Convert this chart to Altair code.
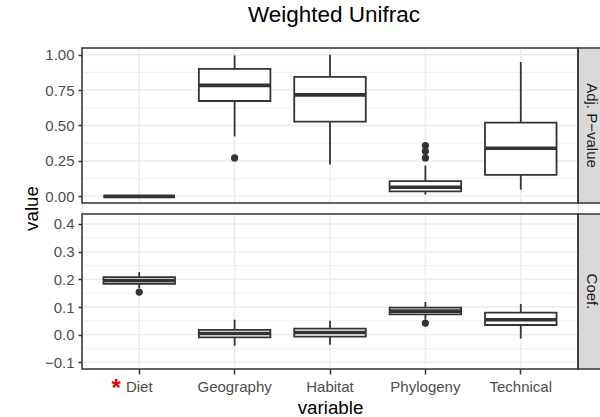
import altair as alt
import pandas as pd

# ---- data -------------------------------------------------------------
variables = ["Diet", "Geography", "Habitat", "Phylogeny", "Technical"]

# Adjusted p-value: box-and-whisker statistics per variable
p_low = [0.0, 0.423, 0.224, 0.012, 0.047]
p_q1 = [0.0, 0.673, 0.527, 0.035, 0.151]
p_median = [0.0, 0.783, 0.716, 0.064, 0.339]
p_q3 = [0.0, 0.899, 0.843, 0.108, 0.520]
p_high = [0.0, 0.995, 1.0, 0.217, 0.948]
p_outlier_var = ["Geography", "Phylogeny", "Phylogeny", "Phylogeny"]
p_outlier_val = [0.271, 0.358, 0.318, 0.271]

# Coefficient: box-and-whisker statistics per variable
c_low = [0.168, -0.040, -0.036, 0.055, -0.014]
c_q1 = [0.184, -0.010, -0.007, 0.073, 0.035]
c_median = [0.196, 0.004, 0.008, 0.085, 0.054]
c_q3 = [0.208, 0.017, 0.022, 0.098, 0.080]
c_high = [0.226, 0.054, 0.050, 0.118, 0.111]
c_outlier_var = ["Diet", "Phylogeny"]
c_outlier_val = [0.154, 0.042]

# axis ticks / grid positions and panel ranges
p_ticks = [0.0, 0.25, 0.5, 0.75, 1.0]
p_minor = [0.125, 0.375, 0.625, 0.875]
p_domain = [-0.047, 1.047]
c_ticks = [-0.1, 0.0, 0.1, 0.2, 0.3, 0.4]
c_minor = [-0.05, 0.05, 0.15, 0.25, 0.35]
c_domain = [-0.124, 0.436]

significant = ["Diet"]

# ---- styling ----------------------------------------------------------
FONT = "Liberation Sans"
INK = "#333333"
GRID = "#ebebeb"
W = 496          # panel width
PANEL_H = 155    # panel height
GAP = 11         # space between the two panels
H = 2 * PANEL_H + GAP
STRIP_W = 26

x_axis = alt.Axis(
    title="variable", orient="bottom", labelAngle=0, labelFont=FONT,
    labelFontSize=15, labelColor="#4d4d4d", labelPadding=5,
    tickColor=INK, tickSize=5, tickWidth=1.5, domain=False, grid=False,
    bandPosition=0.5, titleFont=FONT, titleFontSize=18.75,
    titleColor="black", titleFontWeight="normal", titleY=44,
    titleBaseline="alphabetic",
)
x_enc = alt.X(
    "variable:N",
    scale=alt.Scale(type="band", domain=variables, paddingInner=0.25,
                    paddingOuter=0.225),
    axis=x_axis,
)


def panel(label, low, q1, med, q3, high, out_var, out_val,
          domain, rng, ticks, minor, fmt, title_kw):
    yscale = alt.Scale(domain=domain, range=rng, nice=False, zero=False)
    yaxis = alt.Axis(
        orient="left", values=ticks, format=fmt, grid=False, domain=False,
        tickColor=INK, tickSize=4, tickWidth=1.5, labelFont=FONT,
        labelFontSize=15, labelColor="#4d4d4d", labelPadding=4, **title_kw,
    )

    def Y(field):
        return alt.Y(f"{field}:Q", scale=yscale, axis=yaxis)

    boxes = pd.DataFrame({"variable": variables, "low": low, "q1": q1,
                          "median": med, "q3": q3, "high": high})
    outliers = pd.DataFrame({"variable": out_var, "value": out_val})
    major = pd.DataFrame({"g": ticks})
    minor_df = pd.DataFrame({"g": minor})
    frame = pd.DataFrame({"bottom": [domain[0]], "top": [domain[1]],
                          "mid": [(domain[0] + domain[1]) / 2],
                          "label": [label]})
    vgrid = pd.DataFrame({"variable": variables,
                          "bottom": [domain[0]] * len(variables),
                          "top": [domain[1]] * len(variables)})

    minor_lines = alt.Chart(minor_df).mark_rule(
        color=GRID, strokeWidth=0.8).encode(
        y=Y("g"), x=alt.value(0), x2=alt.value(W))
    major_lines = alt.Chart(major).mark_rule(
        color=GRID, strokeWidth=1.5).encode(
        y=Y("g"), x=alt.value(0), x2=alt.value(W))
    vertical = alt.Chart(vgrid).mark_rule(
        color=GRID, strokeWidth=1.5).encode(
        x=x_enc, y=Y("bottom"), y2="top")

    base = alt.Chart(boxes)
    whisk_lo = base.mark_rule(color=INK, strokeWidth=1.8).encode(
        x=x_enc, y=Y("low"), y2="q1")
    whisk_hi = base.mark_rule(color=INK, strokeWidth=1.8).encode(
        x=x_enc, y=Y("q3"), y2="high")
    box = base.mark_bar(fill="white", stroke=INK, strokeWidth=1.8).encode(
        x=x_enc, y=Y("q1"), y2="q3")
    median = base.mark_tick(color=INK, size=71.5, thickness=3.6,
                            orient="horizontal", opacity=1).encode(
        x=x_enc, y=Y("median"))
    points = alt.Chart(outliers).mark_circle(
        size=52, color=INK, opacity=1).encode(x=x_enc, y=Y("value"))

    border = alt.Chart(frame).mark_rect(
        fill="white", fillOpacity=0, stroke=INK, strokeWidth=1.5).encode(
        x=alt.value(0), x2=alt.value(W), y=Y("bottom"), y2="top")
    strip = alt.Chart(frame).mark_rect(
        fill="#d9d9d9", stroke=INK, strokeWidth=1.5).encode(
        x=alt.value(W), x2=alt.value(W + STRIP_W), y=Y("bottom"), y2="top")
    strip_text = alt.Chart(frame).mark_text(
        angle=90, font=FONT, fontSize=15, color="#1a1a1a",
        align="center", baseline="middle").encode(
        x=alt.value(W + 14), y=Y("mid"), text="label:N")

    return [minor_lines, major_lines, vertical, whisk_lo, whisk_hi, box,
            median, points, strip, border, strip_text]


top_layers = panel(
    "Adj. P\u2212value", p_low, p_q1, p_median, p_q3, p_high,
    p_outlier_var, p_outlier_val, p_domain, [PANEL_H, 0], p_ticks, p_minor,
    ".2f",
    dict(title="value", titleX=-45, titleY=160, titleAngle=270,
         titleAlign="center", titleBaseline="alphabetic", titleFont=FONT,
         titleFontSize=18.75, titleColor="black", titleFontWeight="normal"),
)
bottom_layers = panel(
    "Coef.", c_low, c_q1, c_median, c_q3, c_high,
    c_outlier_var, c_outlier_val, c_domain, [H, PANEL_H + GAP], c_ticks,
    c_minor, ".1f", dict(title=None),
)

# red star marking the significant variable under its axis label
star = alt.Chart(pd.DataFrame({"variable": significant})).mark_text(
    text="*", color="#dd0000", font=FONT, fontSize=24, fontWeight="bold",
    dx=-23, baseline="alphabetic").encode(x=x_enc, y=alt.value(H + 27))

top = alt.layer(*top_layers)
bottom = alt.layer(*bottom_layers, star)

chart = alt.layer(top, bottom).resolve_scale(
    y="independent").resolve_axis(y="independent").properties(
    width=W, height=H,
    title=alt.Title("Weighted Unifrac", font=FONT, fontSize=22.5,
                    fontWeight="normal", color="black", anchor="middle",
                    frame="group", offset=3, baseline="alphabetic", dx=4),
    autosize=alt.AutoSizeParams(type="none"),
    padding={"left": 82, "top": 48, "right": 22, "bottom": 48},
).configure_view(stroke=None).configure(font=FONT)

chart.save("out.html", embed_options={"renderer": "svg", "actions": False})
